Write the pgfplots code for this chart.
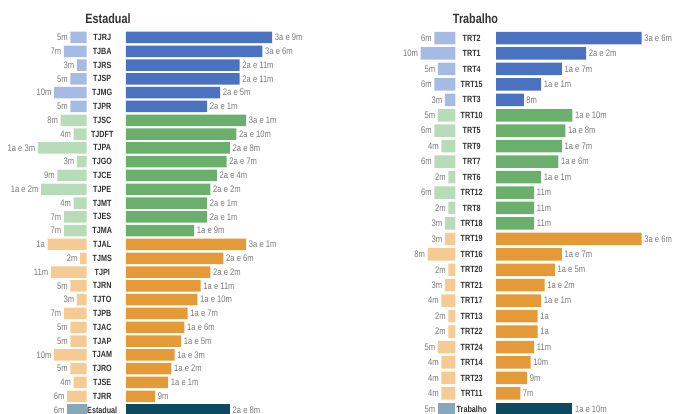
\documentclass[border=0pt]{standalone}
\usepackage{pgfplots}
\pgfplotsset{compat=1.18}
\usepackage{fontspec}
\setmainfont{Liberation Sans}[FakeStretch=0.8]
\definecolor{bD}{HTML}{4A72C0}
\definecolor{bL}{HTML}{A6BBE3}
\definecolor{gD}{HTML}{6AB06C}
\definecolor{gL}{HTML}{B8DCB9}
\definecolor{oD}{HTML}{E49A36}
\definecolor{oL}{HTML}{F5CB93}
\definecolor{tD}{HTML}{0D4A62}
\definecolor{tL}{HTML}{86A8B8}
\definecolor{valgray}{HTML}{7A7A7A}
\definecolor{catgray}{HTML}{333333}
\pgfplotsset{
  base/.style={scale only axis, clip=false, xbar, bar shift=0pt,
    axis line style={draw=none}, tick style={draw=none},
    xtick=\empty, y dir=reverse},
  rb/.style={xbar, bar shift=0pt, draw=none, fill=#1, nodes near coords,
    point meta=explicit symbolic,
    every node near coord/.append style={anchor=west, inner sep=2.5pt, font=\fontsize{9.5}{10}\selectfont, text=valgray}},
  lb/.style={xbar, bar shift=0pt, draw=none, fill=#1, nodes near coords,
    point meta=explicit symbolic,
    every node near coord/.append style={anchor=east, inner sep=2.5pt, font=\fontsize{9.5}{10}\selectfont, text=valgray}},
}
\begin{document}
\begin{tikzpicture}
\useasboundingbox (0,0) rectangle (673pt,414pt);
% ---------------- Estadual ----------------
\node[font=\bfseries\fontsize{13.5}{14}\selectfont, text=catgray] at (108pt,395.5pt) {Estadual};
\begin{axis}[base, at={(86.6pt,383.4pt)}, anchor=north east,
  width=97.5pt, height=386.4pt, xmin=-30, xmax=0, ymin=-0.5, ymax=27.5,
  ytick=\empty, bar width=11.5pt]
\addplot[lb=bL, bar width=11.5pt] coordinates {(-5,0) [5m] (-7,1) [7m] (-3,2) [3m] (-5,3) [5m] (-10,4) [10m] (-5,5) [5m]};
\addplot[lb=gL, bar width=11.5pt] coordinates {(-8,6) [8m] (-4,7) [4m] (-15,8) [1a e 3m] (-3,9) [3m] (-9,10) [9m] (-14,11) [1a e 2m] (-4,12) [4m] (-7,13) [7m] (-7,14) [7m]};
\addplot[lb=oL, bar width=11.5pt] coordinates {(-12,15) [1a] (-2,16) [2m] (-11,17) [11m] (-5,18) [5m] (-3,19) [3m] (-7,20) [7m] (-5,21) [5m] (-5,22) [5m] (-10,23) [10m] (-5,24) [5m] (-4,25) [4m] (-6,26) [6m]};
\addplot[lb=tL, bar width=11.5pt] coordinates {(-6,27) [6m]};
\end{axis}
\begin{axis}[base, at={(126pt,383.4pt)}, anchor=north west,
  width=162.5pt, height=386.4pt, xmin=0, xmax=50, ymin=-0.5, ymax=27.5,
  bar width=11.5pt,
  ytick={0,...,27},
  yticklabels={TJRJ,TJBA,TJRS,TJSP,TJMG,TJPR,TJSC,TJDFT,TJPA,TJGO,TJCE,TJPE,TJMT,TJES,TJMA,TJAL,TJMS,TJPI,TJRN,TJTO,TJPB,TJAC,TJAP,TJAM,TJRO,TJSE,TJRR,Estadual},
  yticklabel style={anchor=center, xshift=-19.5pt, font=\bfseries\fontsize{9}{10}\selectfont, text=catgray}]
\addplot[rb=bD, bar width=11.5pt] coordinates {(45,0) [3a e 9m] (42,1) [3a e 6m] (35,2) [2a e 11m] (35,3) [2a e 11m] (29,4) [2a e 5m] (25,5) [2a e 1m]};
\addplot[rb=gD, bar width=11.5pt] coordinates {(37,6) [3a e 1m] (34,7) [2a e 10m] (32,8) [2a e 8m] (31,9) [2a e 7m] (28,10) [2a e 4m] (26,11) [2a e 2m] (25,12) [2a e 1m] (25,13) [2a e 1m] (21,14) [1a e 9m]};
\addplot[rb=oD, bar width=11.5pt] coordinates {(37,15) [3a e 1m] (30,16) [2a e 6m] (26,17) [2a e 2m] (23,18) [1a e 11m] (22,19) [1a e 10m] (19,20) [1a e 7m] (18,21) [1a e 6m] (17,22) [1a e 5m] (15,23) [1a e 3m] (14,24) [1a e 2m] (13,25) [1a e 1m] (9,26) [9m]};
\addplot[rb=tD, bar width=11.5pt] coordinates {(32,27) [2a e 8m]};
\end{axis}
% ---------------- Trabalho ----------------
\node[font=\bfseries\fontsize{13.5}{14}\selectfont, text=catgray] at (475.5pt,395pt) {Trabalho};
\begin{axis}[base, at={(455.3pt,383.7pt)}, anchor=north east,
  width=104.1pt, height=386.25pt, xmin=-30, xmax=0, ymin=-0.5, ymax=24.5,
  ytick=\empty, bar width=12.5pt]
\addplot[lb=bL, bar width=12.5pt] coordinates {(-6,0) [6m] (-10,1) [10m] (-5,2) [5m] (-6,3) [6m] (-3,4) [3m]};
\addplot[lb=gL, bar width=12.5pt] coordinates {(-5,5) [5m] (-6,6) [6m] (-4,7) [4m] (-6,8) [6m] (-2,9) [2m] (-6,10) [6m] (-2,11) [2m] (-3,12) [3m]};
\addplot[lb=oL, bar width=12.5pt] coordinates {(-3,13) [3m] (-8,14) [8m] (-2,15) [2m] (-3,16) [3m] (-4,17) [4m] (-2,18) [2m] (-2,19) [2m] (-5,20) [5m] (-4,21) [4m] (-4,22) [4m] (-4,23) [4m]};
\addplot[lb=tL, bar width=12.5pt] coordinates {(-5,24) [5m]};
\end{axis}
\begin{axis}[base, at={(496pt,383.7pt)}, anchor=north west,
  width=173.5pt, height=386.25pt, xmin=0, xmax=50, ymin=-0.5, ymax=24.5,
  bar width=12.5pt,
  ytick={0,...,24},
  yticklabels={TRT2,TRT1,TRT4,TRT15,TRT3,TRT10,TRT5,TRT9,TRT7,TRT6,TRT12,TRT8,TRT18,TRT19,TRT16,TRT20,TRT21,TRT17,TRT13,TRT22,TRT24,TRT14,TRT23,TRT11,Trabalho},
  yticklabel style={anchor=center, xshift=-20pt, font=\bfseries\fontsize{9}{10}\selectfont, text=catgray}]
\addplot[rb=bD, bar width=12.5pt] coordinates {(42,0) [3a e 6m] (26,1) [2a e 2m] (19,2) [1a e 7m] (13,3) [1a e 1m] (8,4) [8m]};
\addplot[rb=gD, bar width=12.5pt] coordinates {(22,5) [1a e 10m] (20,6) [1a e 8m] (19,7) [1a e 7m] (18,8) [1a e 6m] (13,9) [1a e 1m] (11,10) [11m] (11,11) [11m] (11,12) [11m]};
\addplot[rb=oD, bar width=12.5pt] coordinates {(42,13) [3a e 6m] (19,14) [1a e 7m] (17,15) [1a e 5m] (14,16) [1a e 2m] (13,17) [1a e 1m] (12,18) [1a] (12,19) [1a] (11,20) [11m] (10,21) [10m] (9,22) [9m] (7,23) [7m]};
\addplot[rb=tD, bar width=12.5pt] coordinates {(22,24) [1a e 10m]};
\end{axis}
\end{tikzpicture}
\end{document}
